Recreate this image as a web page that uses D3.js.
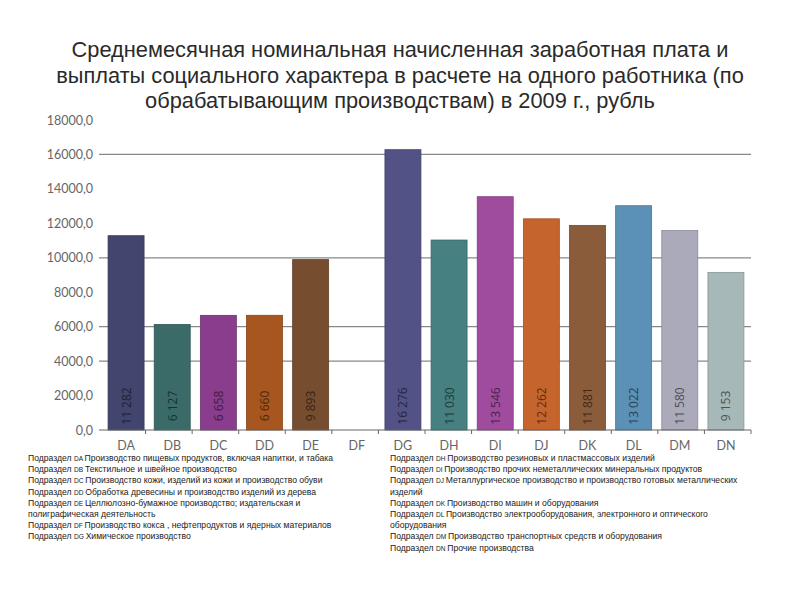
<!DOCTYPE html>
<html><head><meta charset="utf-8">
<script src="https://cdn.jsdelivr.net/npm/d3@7"></script>
<style>body{margin:0;background:#fff}</style>
</head><body>
<svg id="c" width="800" height="600"></svg>
<script>
const titleLines = [
  "Среднемесячная номинальная начисленная заработная плата и",
  "выплаты социального характера в расчете на одного работника (по",
  "обрабатывающим производствам) в 2009 г., рубль"
];
const categories = ["DA","DB","DC","DD","DE","DF","DG","DH","DI","DJ","DK","DL","DM","DN"];
const values = [11282, 6127, 6658, 6660, 9893, null, 16276, 11030, 13546, 12262, 11881, 13022, 11580, 9153];
const valueLabels = ["11 282","6 127","6 658","6 660","9 893","","16 276","11 030","13 546","12 262","11 881","13 022","11 580","9 153"];
const colors = ["#42466e","#3a6b68","#8a3d8c","#a8561f","#774d2f","#888888","#525287","#468080","#a04c9e","#c5642c","#8a5c3a","#5b91b6","#aaaabb","#a7b8b8"];
const yTicks = [0,2000,4000,6000,8000,10000,12000,14000,16000,18000];
const gridValues = [4000,6000,10000,16000];
const legendLeft = [
  ["DA","Производство пищевых продуктов, включая напитки, и табака"],
  ["DB","Текстильное и швейное производство"],
  ["DC","Производство кожи, изделий из кожи и производство обуви"],
  ["DD","Обработка древесины и производство изделий из дерева"],
  ["DE","Целлюлозно-бумажное производство; издательская и","полиграфическая деятельность"],
  ["DF","Производство кокса , нефтепродуктов и ядерных материалов"],
  ["DG","Химическое производство"]
];
const legendRight = [
  ["DH","Производство резиновых и пластмассовых изделий"],
  ["DI","Производство прочих неметаллических минеральных продуктов"],
  ["DJ","Металлургическое производство и производство готовых металлических","изделий"],
  ["DK","Производство машин и оборудования"],
  ["DL","Производство электрооборудования, электронного и оптического","оборудования"],
  ["DM","Производство транспортных средств и оборудования"],
  ["DN","Прочие производства"]
];

const svg = d3.select("#c");
const m = {left: 99, right: 751, top: 120, bottom: 430};
const x = d3.scaleBand().domain(categories).range([103, 749]).paddingInner(0.22).paddingOuter(0.11);
const y = d3.scaleLinear().domain([0, 18000]).range([m.bottom, m.top]);

// title
svg.append("g").selectAll("text").data(titleLines).join("text")
  .attr("x", 400).attr("y", (d,i) => 57 + i*25.5)
  .attr("text-anchor","middle")
  .attr("font-family","Liberation Sans, Arial, sans-serif")
  .attr("font-size", 21.8).attr("fill","#2a2a2a").text(d => d);

// gridlines
svg.append("g").selectAll("line").data(gridValues).join("line")
  .attr("x1", m.left).attr("x2", m.right)
  .attr("y1", d => y(d)).attr("y2", d => y(d))
  .attr("stroke", "#888").attr("stroke-width", 1.2);

// y axis labels
const yAxis = d3.axisLeft(y).tickValues(yTicks).tickSize(0).tickPadding(6)
  .tickFormat(d => d3.format(".1f")(d).replace(".", ","));
const gy = svg.append("g").attr("transform", `translate(${m.left},0)`).call(yAxis);
gy.select(".domain").remove();
gy.selectAll("text").attr("font-family","Lato, Open Sans, sans-serif").attr("font-size", 12.5).attr("fill","#666");

// bars
const data = categories.map((c,i) => ({c, v: values[i], lab: valueLabels[i], col: colors[i]})).filter(d => d.v != null);
svg.append("g").selectAll("rect").data(data).join("rect")
  .attr("x", d => x(d.c)).attr("width", x.bandwidth())
  .attr("y", d => y(d.v)).attr("height", d => y(0) - y(d.v))
  .attr("fill", d => d.col)
  .attr("stroke", d => d3.color(d.col).darker(0.6)).attr("stroke-width", 0.8);

// value labels
svg.append("g").selectAll("text").data(data).join("text")
  .attr("transform", d => `translate(${x(d.c) + x.bandwidth()/2 + 4.5},${y(0) - 24}) rotate(-90)`)
  .attr("text-anchor","middle")
  .attr("font-family","Open Sans, sans-serif").attr("font-size", 12)
  .attr("fill", d => d3.color(d.col).darker(2.2))
  .text(d => d.lab);

// x axis
const xAxis = d3.axisBottom(x).tickSize(0).tickPadding(11);
const gx = svg.append("g").attr("transform", `translate(0,${m.bottom})`).call(xAxis);
gx.select(".domain").attr("stroke","#666").attr("stroke-width",1.2).attr("d", `M${m.left},0H${m.right}`);
gx.selectAll("text").attr("font-family","Lato, Open Sans, sans-serif").attr("font-size", 12.5).attr("fill","#666");
const bounds = d3.range(1, categories.length + 1).map(i => m.left + (m.right - m.left) * i / categories.length);
gx.append("g").selectAll("line").data(bounds).join("line")
  .attr("x1", d => d).attr("x2", d => d).attr("y1", 0).attr("y2", 4)
  .attr("stroke","#666");

// legend
function drawLegend(items, x0) {
  let row = 0;
  const g = svg.append("g");
  items.forEach(it => {
    const t = g.append("text").attr("x", x0).attr("y", 461 + row*11.2)
      .attr("font-family","Liberation Sans, Arial, sans-serif").attr("font-size", 8.6).attr("fill","#222");
    t.append("tspan").text("Подраздел ");
    t.append("tspan").attr("font-size", 6.6).text(it[0] + " ");
    t.append("tspan").text(it[1]);
    row++;
    for (let k = 2; k < it.length; k++) {
      g.append("text").attr("x", x0).attr("y", 461 + row*11.2)
        .attr("font-family","Liberation Sans, Arial, sans-serif").attr("font-size", 8.6).attr("fill","#222")
        .text(it[k]);
      row++;
    }
  });
}
drawLegend(legendLeft, 28);
drawLegend(legendRight, 390);
</script>
</body></html>
